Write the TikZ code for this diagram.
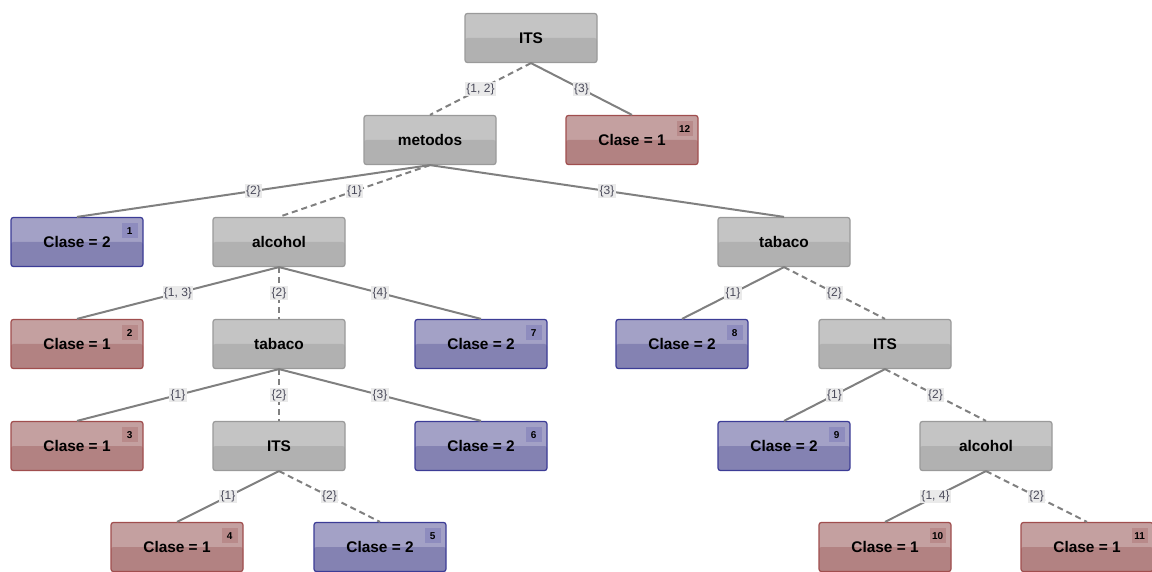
\documentclass[tikz,border=0pt]{standalone}
\usepackage{fontspec}
\setmainfont{Liberation Sans}
\definecolor{splitline}{HTML}{9A9A9A}
\definecolor{splittop}{HTML}{C4C4C4}
\definecolor{splitbot}{HTML}{B1B1B1}
\definecolor{redline}{HTML}{A04E4E}
\definecolor{redtop}{HTML}{C4A0A0}
\definecolor{redbot}{HTML}{B28282}
\definecolor{redbadge}{HTML}{B88A8A}
\definecolor{blueline}{HTML}{3C3C96}
\definecolor{bluetop}{HTML}{A3A1C6}
\definecolor{bluebot}{HTML}{8482B2}
\definecolor{bluebadge}{HTML}{8E8CBE}
\definecolor{edgegray}{HTML}{808080}
\definecolor{cutfill}{HTML}{EAEAEA}
\definecolor{cuttext}{HTML}{4A4A5A}

\begin{document}
\begin{tikzpicture}[x=0.5pt, y=-0.5pt,
  every node/.style={font=\bfseries\fontsize{7.7}{9}\selectfont},
  box/.style n args={3}{rectangle, rounded corners=1.2pt, line width=0.6pt,
    minimum width=66pt, minimum height=24.5pt, inner sep=0pt, draw=#1, fill=#2,
    path picture={\fill[#3] (path picture bounding box.west)
      rectangle (path picture bounding box.south east);}},
  split/.style={box={splitline}{splittop}{splitbot}},
  leaf1/.style={box={redline}{redtop}{redbot}},
  leaf2/.style={box={blueline}{bluetop}{bluebot}},
  badge/.style={rectangle, minimum width=8pt, minimum height=7.5pt, inner sep=0pt,
    font=\bfseries\fontsize{5}{6}\selectfont},
  badge1/.style={badge, fill=redbadge},
  badge2/.style={badge, fill=bluebadge},
  cut/.style={font=\fontsize{6}{7}\selectfont, text=cuttext, fill=cutfill,
    inner sep=0.7pt},
  link/.style={draw=edgegray, line width=1pt},
  other/.style={link, dash pattern=on 3pt off 2pt}]
  \useasboundingbox (0,0) rectangle (1152,572);
  % split nodes
  \node[split] (r)  at (531,38)  {ITS};
  \node[split] (m)  at (430,140) {metodos};
  \node[split] (a1) at (279,242) {alcohol};
  \node[split] (t2) at (784,242) {tabaco};
  \node[split] (t1) at (279,344) {tabaco};
  \node[split] (i2) at (885,344) {ITS};
  \node[split] (i1) at (279,446) {ITS};
  \node[split] (a2) at (986,446) {alcohol};
  % leaves
  \foreach \k/\x/\y/\c in {12/632/140/1, 1/77/242/2, 2/77/344/1, 7/481/344/2,
      8/682/344/2, 3/77/446/1, 6/481/446/2, 9/784/446/2, 4/177/547/1,
      5/380/547/2, 10/885/547/1, 11/1087/547/1} {
    \node[leaf\c] (c\k) at (\x,\y) {Clase = \c};
    \node[badge\c] (b\k) at ([xshift=-7pt, yshift=-7pt]c\k.north east) {\k};
  }
  % connectors
  \draw[other] (r.south) -- node[cut] {\{1, 2\}} (m.north);
  \draw[link] (r.south) -- node[cut] {\{3\}} (c12.north);
  \draw[link] (m.south) -- node[cut] {\{2\}} (c1.north);
  \draw[other] (m.south) -- node[cut] {\{1\}} (a1.north);
  \draw[link] (m.south) -- node[cut] {\{3\}} (t2.north);
  \draw[link] (a1.south) -- node[cut] {\{1, 3\}} (c2.north);
  \draw[other] (a1.south) -- node[cut] {\{2\}} (t1.north);
  \draw[link] (a1.south) -- node[cut] {\{4\}} (c7.north);
  \draw[link] (t2.south) -- node[cut] {\{1\}} (c8.north);
  \draw[other] (t2.south) -- node[cut] {\{2\}} (i2.north);
  \draw[link] (t1.south) -- node[cut] {\{1\}} (c3.north);
  \draw[other] (t1.south) -- node[cut] {\{2\}} (i1.north);
  \draw[link] (t1.south) -- node[cut] {\{3\}} (c6.north);
  \draw[link] (i2.south) -- node[cut] {\{1\}} (c9.north);
  \draw[other] (i2.south) -- node[cut] {\{2\}} (a2.north);
  \draw[link] (i1.south) -- node[cut] {\{1\}} (c4.north);
  \draw[other] (i1.south) -- node[cut] {\{2\}} (c5.north);
  \draw[link] (a2.south) -- node[cut] {\{1, 4\}} (c10.north);
  \draw[other] (a2.south) -- node[cut] {\{2\}} (c11.north);
\end{tikzpicture}
\end{document}
